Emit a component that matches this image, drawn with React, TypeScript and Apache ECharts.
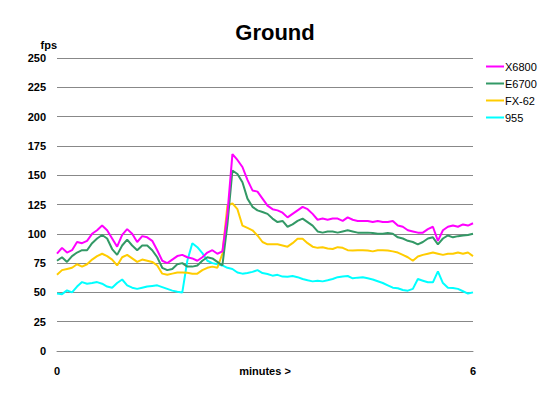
import React, { useEffect, useRef } from 'react';
import * as echarts from 'echarts';

// one sample every ~0.07 minutes
const x6800 = [
    83, 88, 84, 86, 93, 92, 94, 100, 103, 107, 103, 96, 89, 99, 104, 100, 93, 98, 97, 94,
    86, 77, 75, 78, 81, 82, 80, 79, 77, 80, 84, 86, 83, 85, 117, 168, 163, 157, 146, 137,
    136, 130, 124, 121, 120, 118, 114, 117, 120, 123, 121, 117, 112, 113, 112, 113, 113, 111, 114, 112,
    111, 111, 111, 110, 111, 110, 110, 111, 107, 106, 103, 102, 101, 101, 104, 106, 94, 103, 106, 107,
    106, 108, 107, 109,
];
const e6700 = [
    77, 80, 76, 81, 84, 86, 86, 92, 96, 99, 96, 87, 82, 90, 95, 90, 86, 90, 90, 86,
    80, 71, 69, 70, 74, 75, 72, 72, 73, 77, 80, 79, 76, 73, 108, 154, 151, 144, 130, 123,
    120, 118.6, 117, 113, 110, 111, 106, 108, 111, 113, 110, 107, 102, 101, 102, 102, 101, 102, 103, 102,
    101, 101, 101, 100.6, 100, 100, 100.6, 100, 97, 96, 94, 93, 91, 93, 96, 97, 91, 96, 98.6, 97,
    98, 98.6, 99, 100,
];
const fx62 = [
    65, 69, 70, 71, 74, 72, 74, 78, 81, 83, 81, 78, 73, 80, 82, 79, 76, 78, 77, 76,
    73, 66, 65, 66, 67, 67, 66.7, 66, 66, 69, 71, 72, 71, 83, 124, 126, 121, 107, 105, 103,
    98.6, 93, 91, 91, 91, 90, 89, 92, 95.7, 95.7, 92, 89, 88, 88.6, 87.5, 87, 88.6, 88, 86, 85.7,
    86, 86, 85.7, 85, 86, 86, 85.7, 85, 84, 82, 80, 77, 80.6, 82, 83, 84, 83, 82, 83, 83,
    84, 83, 84, 81,
];
const s955 = [
    49, 48.5, 51.7, 50, 55, 58.8, 57.4, 58, 58.8, 57.4, 55, 54, 58, 61, 56, 54, 53, 54, 55, 55.5,
    56, 54.5, 53, 51.5, 50.5, 50, 77, 92, 88.6, 83.5, 77, 75, 74, 73, 71, 70, 67, 66, 66.5, 67.5,
    69, 66.5, 65.7, 64.3, 65, 63.5, 63.4, 64, 63, 61.4, 60.3, 59.4, 60, 59.4, 60.3, 61.4, 63, 63.6, 64, 62,
    62.6, 63, 62, 61, 59.5, 58, 56, 54, 53.5, 52, 51.5, 53, 61.4, 60, 58.6, 58.6, 68, 58, 54, 53.7,
    53, 51, 49, 50,
];

const seriesNames = ['X6800', 'E6700', 'FX-62', '955'];
const seriesColors = ['#ff00ff', '#339966', '#ffcc00', '#00ffff'];
const xTickLabels = ['0', '6'];

const font = 'Arial, "Liberation Sans", sans-serif';

export default function App() {
    const chartRef = useRef<HTMLDivElement>(null);

    useEffect(() => {
        if (chartRef.current === null) return;
        const chart = echarts.init(chartRef.current, undefined, { renderer: 'svg' });
        const values = [x6800, e6700, fx62, s955];
        const n = x6800.length;
        const categories = values[0].map((_, i) => String(i));

        chart.setOption({
            animation: false,
            backgroundColor: '#fff',
            title: {
                text: 'Ground',
                left: 'center',
                top: 16,
                textStyle: { fontFamily: font, fontSize: 22, fontWeight: 'bold', color: '#000' },
            },
            legend: {
                orient: 'vertical',
                left: 481,
                top: 55,
                icon: 'rect',
                itemWidth: 18,
                itemHeight: 2,
                itemGap: 4,
                textStyle: { fontFamily: font, fontSize: 11, color: '#000', lineHeight: 13, padding: [0, 0, 0, -4] },
                data: seriesNames,
            },
            grid: { left: 57, right: 77, top: 58, bottom: 62 },
            xAxis: {
                type: 'category',
                data: categories,
                boundaryGap: false,
                name: 'minutes >',
                nameLocation: 'middle',
                nameGap: 14,
                nameMoveOverlap: false,
                nameTextStyle: { fontFamily: font, fontSize: 11, fontWeight: 'bold', color: '#000', verticalAlign: 'top' },
                axisLine: { lineStyle: { color: '#888', width: 1 } },
                axisTick: { show: false },
                axisLabel: {
                    interval: (i: number) => i === 0 || i === n - 1,
                    formatter: (_v: string, i: number) => (i === 0 ? xTickLabels[0] : xTickLabels[1]),
                    fontFamily: font,
                    fontSize: 11,
                    fontWeight: 'bold',
                    color: '#000',
                    margin: 14,
                },
            },
            yAxis: {
                type: 'value',
                min: 0,
                max: 250,
                interval: 25,
                name: 'fps',
                nameGap: 8,
                nameTextStyle: { fontFamily: font, fontSize: 11, fontWeight: 'bold', color: '#000', align: 'right' },
                axisLine: { show: false },
                axisTick: { show: false },
                splitLine: { lineStyle: { color: '#888', width: 1 } },
                axisLabel: { fontFamily: font, fontSize: 11, fontWeight: 'bold', color: '#000', margin: 11 },
            },
            series: seriesNames.map((name, k) => ({
                name,
                type: 'line',
                data: values[k],
                showSymbol: false,
                symbol: 'none',
                color: seriesColors[k],
                lineStyle: { width: 2, color: seriesColors[k] },
                z: 10 - k,
            })),
        });

        return () => {
            chart.dispose();
        };
    }, []);

    return (
        <div
            ref={chartRef}
            style={{ position: 'fixed', left: 0, top: 0, width: 550, height: 413, background: '#fff' }}
        />
    );
}
